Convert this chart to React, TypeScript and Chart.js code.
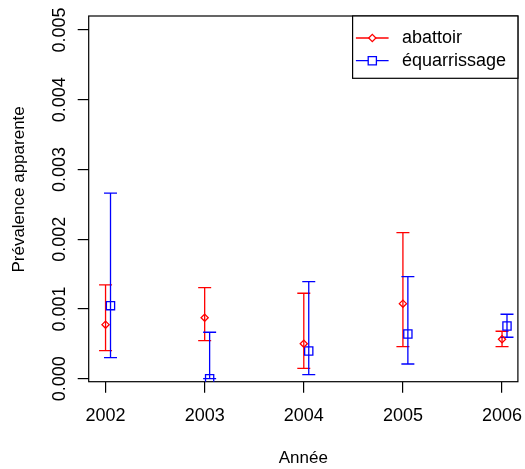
import React, { useEffect, useRef } from "react";
import { Chart, registerables } from "chart.js";

Chart.register(...registerables);

// ---- data ----
const years = [2002, 2003, 2004, 2005, 2006];
const seriesLabels = ["abattoir", "équarrissage"];
const abattoirPrev = [0.000775, 0.000875, 0.000502, 0.001076, 0.000565];
const abattoirLow = [0.000402, 0.000545, 0.000149, 0.000459, 0.000459];
const abattoirHigh = [0.001344, 0.001306, 0.001225, 0.002095, 0.00068];
const equarPrev = [0.001047, 0.0, 0.000397, 0.000641, 0.000756];
const equarLow = [0.000301, 0.0, 0.000057, 0.000211, 0.000594];
const equarHigh = [0.00266, 0.000666, 0.001392, 0.001463, 0.000924];
const yTicks = [0, 0.001, 0.002, 0.003, 0.004, 0.005];
const xTitle = "Année";
const yTitle = "Prévalence apparente";

// ---- style ----
const FONT = '"Liberation Sans", Arial, Helvetica, sans-serif';
const RED = "#ff0000";
const BLUE = "#0000ff";
const EQ_OFFSET = 0.05;
const CAP = 6.5;
const LW = 1.3;

const bgPlugin = {
  id: "bg",
  beforeDraw(chart: any) {
    const c = chart.ctx;
    c.save();
    c.fillStyle = "#ffffff";
    c.fillRect(0, 0, chart.width, chart.height);
    c.restore();
  },
};

const boxPlugin = {
  id: "box",
  beforeDatasetsDraw(chart: any) {
    const { left, right, top, bottom } = chart.chartArea;
    const c = chart.ctx;
    c.save();
    c.strokeStyle = "#000";
    c.lineWidth = 1.2;
    c.strokeRect(left, top, right - left, bottom - top);
    c.restore();
  },
};

const errorBarPlugin = {
  id: "errbars",
  beforeDatasetsDraw(chart: any) {
    const c = chart.ctx;
    const ys = chart.scales.y;
    chart.data.datasets.forEach((ds: any, di: number) => {
      const meta = chart.getDatasetMeta(di);
      c.save();
      c.strokeStyle = ds.borderColor;
      c.lineWidth = LW;
      meta.data.forEach((pt: any, i: number) => {
        const x = pt.x;
        const y1 = ys.getPixelForValue(ds.errLow[i]);
        const y2 = ys.getPixelForValue(ds.errHigh[i]);
        c.beginPath();
        c.moveTo(x, y1);
        c.lineTo(x, y2);
        c.moveTo(x - CAP, y1);
        c.lineTo(x + CAP, y1);
        c.moveTo(x - CAP, y2);
        c.lineTo(x + CAP, y2);
        c.stroke();
      });
      c.restore();
    });
  },
};

const legendPlugin = {
  id: "rlegend",
  afterDatasetsDraw(chart: any) {
    const c = chart.ctx;
    const { right, top } = chart.chartArea;
    const boxLeft = right - 165.3;
    const boxBottom = top + 62.3;
    c.save();
    c.fillStyle = "#fff";
    c.fillRect(boxLeft, top, right - boxLeft, boxBottom - top);
    c.strokeStyle = "#000";
    c.lineWidth = 1.2;
    c.strokeRect(boxLeft, top, right - boxLeft, boxBottom - top);
    chart.data.datasets.forEach((ds: any, i: number) => {
      const y = top + 22 + i * 22.7;
      const mx = boxLeft + 19.7;
      c.strokeStyle = ds.borderColor;
      c.lineWidth = LW;
      c.beginPath();
      c.moveTo(boxLeft + 3.3, y);
      c.lineTo(boxLeft + 36, y);
      c.stroke();
      c.beginPath();
      if (ds.pointStyle === "rectRot") {
        const r = ds.pointRadius;
        c.moveTo(mx - r, y);
        c.lineTo(mx, y - r);
        c.lineTo(mx + r, y);
        c.lineTo(mx, y + r);
        c.closePath();
      } else {
        const s = ds.pointRadius * Math.SQRT1_2;
        c.rect(mx - s, y - s, 2 * s, 2 * s);
      }
      c.fillStyle = "#fff";
      c.fill();
      c.stroke();
      c.fillStyle = "#000";
      c.font = `18px ${FONT}`;
      c.textBaseline = "middle";
      c.textAlign = "left";
      c.fillText(ds.label, boxLeft + 49.3, y);
    });
    c.restore();
  },
};

const noPad = (s: any) => {
  s.paddingLeft = 0;
  s.paddingRight = 0;
  s.paddingTop = 0;
  s.paddingBottom = 0;
};

export default function App() {
  const ref = useRef<HTMLCanvasElement | null>(null);

  useEffect(() => {
    if (!ref.current) return;
    const chart = new Chart(ref.current, {
      type: "scatter",
      data: {
        datasets: [
          {
            label: seriesLabels[0],
            data: years.map((yr, i) => ({ x: yr, y: abattoirPrev[i] })),
            borderColor: RED,
            backgroundColor: "rgba(0,0,0,0)",
            pointStyle: "rectRot",
            pointRadius: 3.6,
            pointBorderWidth: LW,
            errLow: abattoirLow,
            errHigh: abattoirHigh,
          } as any,
          {
            label: seriesLabels[1],
            data: years.map((yr, i) => ({ x: yr + EQ_OFFSET, y: equarPrev[i] })),
            borderColor: BLUE,
            backgroundColor: "rgba(0,0,0,0)",
            pointStyle: "rect",
            pointRadius: 5.8,
            pointBorderWidth: LW,
            errLow: equarLow,
            errHigh: equarHigh,
          } as any,
        ],
      },
      options: {
        animation: false,
        responsive: false,
        events: [],
        layout: { padding: { top: 16, right: 5.7, left: 0, bottom: 0 } },
        plugins: { legend: { display: false }, tooltip: { enabled: false } },
        scales: {
          x: {
            type: "linear",
            min: 2001.83,
            max: 2006.16,
            afterBuildTicks: (s: any) => {
              s.ticks = years.map((v) => ({ value: v }));
            },
            afterFit: (s: any) => {
              s.height = 87.3;
              noPad(s);
            },
            ticks: {
              autoSkip: false,
              maxRotation: 0,
              minRotation: 0,
              padding: 12.7,
              color: "#000",
              font: { family: FONT, size: 18 },
              callback: (v: any) => String(v),
            },
            grid: { drawOnChartArea: false, drawTicks: true, tickLength: 11, color: "#000", lineWidth: 1.2 },
            border: { display: false },
            title: {
              display: true,
              text: xTitle,
              color: "#000",
              font: { family: FONT, size: 17 },
              padding: { top: 0, bottom: 0.5 },
            },
          },
          y: {
            type: "linear",
            min: -0.000043,
            max: 0.0052,
            afterBuildTicks: (s: any) => {
              s.ticks = yTicks.map((v) => ({ value: v }));
            },
            afterFit: (s: any) => {
              s.width = 88.7;
              noPad(s);
            },
            ticks: {
              minRotation: 90,
              maxRotation: 90,
              crossAlign: "center",
              padding: -5,
              color: "#000",
              font: { family: FONT, size: 18 },
              callback: (v: any) => Number(v).toFixed(3),
            },
            grid: { drawOnChartArea: false, drawTicks: true, tickLength: 11, color: "#000", lineWidth: 1.2 },
            border: { display: false },
            title: {
              display: true,
              text: "    " + yTitle,
              color: "#000",
              font: { family: FONT, size: 17 },
              padding: { top: 9, bottom: 0 },
            },
          },
        },
      } as any,
      plugins: [bgPlugin, boxPlugin, errorBarPlugin, legendPlugin],
    });
    return () => chart.destroy();
  }, []);

  return (
    <div style={{ position: "fixed", left: 0, top: 0, width: 525, height: 469, background: "#fff" }}>
      <canvas ref={ref} width={525} height={469} style={{ display: "block" }} />
    </div>
  );
}
